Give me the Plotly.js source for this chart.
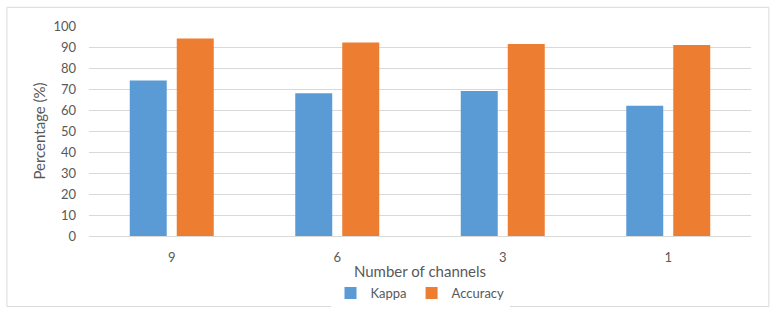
<!DOCTYPE html>
<html>
<head>
<meta charset="utf-8">
<script src="https://cdn.plot.ly/plotly-3.0.1.min.js"></script>
<style>
  html, body { margin: 0; padding: 0; background: #fff; }
  #plot { width: 777px; height: 320px; }
</style>
</head>
<body>
<div id="plot"></div>
<script>
// chart data
var channels = ["9", "6", "3", "1"]
var kappa = [74, 68, 69, 62]
var accuracy = [94, 92.2, 91.4, 91]

var textColor = '#595959'
var fontName = 'Lato, "Open Sans", sans-serif'

// one trace per metric
var plot_data = [
  {
    x: channels,
    y: kappa,
    type: "bar",
    name: "Kappa",
    marker: {color: '#5B9BD5'}
  },
  {
    x: channels,
    y: accuracy,
    type: "bar",
    name: "Accuracy",
    marker: {color: '#ED7D31'}
  }
]

var layout = {
  width: 777,
  height: 320,
  margin: {l: 89, r: 26, t: 26, b: 80},
  paper_bgcolor: '#ffffff',
  plot_bgcolor: '#ffffff',
  font: {family: fontName, size: 13, color: textColor},
  barmode: 'group',
  bargap: 0.432,
  bargroupgap: 0.213,
  showlegend: true,
  legend: {
    orientation: 'h',
    x: 0.5, xanchor: 'center',
    y: -0.272, yanchor: 'middle',
    font: {family: fontName, size: 13, color: textColor},
    itemwidth: 30
  },
  xaxis: {
    type: 'category',
    automargin: false,
    title: {text: 'Number of channels', font: {family: fontName, size: 15, color: textColor}, standoff: 2},
    showline: true,
    linecolor: '#d9d9d9',
    linewidth: 1,
    ticks: '',
    ticklabelstandoff: 9,
    tickfont: {family: fontName, size: 13, color: textColor}
  },
  yaxis: {
    range: [0, 100],
    dtick: 10,
    automargin: false,
    title: {text: 'Percentage (%)', font: {family: fontName, size: 15, color: textColor}, standoff: 4},
    gridcolor: '#d9d9d9',
    gridwidth: 1,
    zeroline: false,
    showline: false,
    ticks: '',
    ticklabelstandoff: 12,
    tickfont: {family: fontName, size: 13, color: textColor}
  },
  shapes: [
    {
      type: 'rect', xref: 'paper', yref: 'paper',
      x0: -0.124, x1: 1.027, y0: -0.336, y1: 1.089,
      line: {color: '#d9d9d9', width: 1},
      fillcolor: 'rgba(0,0,0,0)'
    }
  ]
}

Plotly.newPlot("plot", plot_data, layout, {displayModeBar: false, staticPlot: true})
</script>
</body>
</html>
